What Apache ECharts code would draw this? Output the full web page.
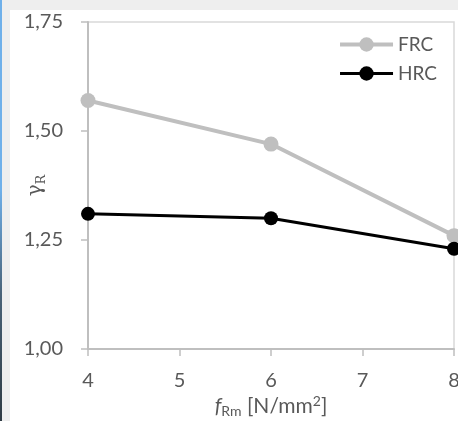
<!DOCTYPE html>
<html>
<head>
<meta charset="utf-8">
<script src="https://cdn.jsdelivr.net/npm/echarts@6/dist/echarts.min.js"></script>
<style>
  html, body { margin: 0; padding: 0; background: #eeeeee; width: 458px; height: 421px; overflow: hidden; }
  #edge { position: absolute; left: 0; top: 0; width: 2px; height: 421px;
          background: linear-gradient(#6fb0ea 0%, #6fb0ea 45%, #4a6378 70%, #2f3b44 100%); }
  #chart { position: absolute; left: 10px; top: 10px; width: 448px; height: 411px; background: #ffffff; }
</style>
</head>
<body>
<div id="edge"></div>
<div id="chart"></div>
<script>
// Partial safety factor against tensile strength
const strengths = [4, 6, 8];            // f_Rm [N/mm²]
const frcValues = [1.57, 1.47, 1.26];   // FRC
const hrcValues = [1.31, 1.30, 1.23];   // HRC
const yTicks = [1.00, 1.25, 1.50, 1.75];
const xTicks = [4, 5, 6, 7, 8];

const textColor = '#595959';
const font = 'Lato';

const pairs = (xs, ys) => xs.map((x, i) => [x, ys[i]]);

const chart = echarts.init(document.getElementById('chart'), null, { renderer: 'canvas' });
chart.setOption({
  animation: false,
  backgroundColor: 'transparent',
  textStyle: { fontFamily: font, color: textColor },
  grid: {
    left: 78, top: 12, right: 4, bottom: 72,
    containLabel: false, outerBoundsMode: 'none',
    show: true, borderColor: '#d9d9d9', borderWidth: 1.5, backgroundColor: 'transparent'
  },
  legend: {
    orient: 'vertical',
    right: 16, top: 20,
    itemWidth: 53, itemHeight: 18, itemGap: 10,
    textStyle: { fontFamily: font, fontSize: 19, color: textColor },
    data: [
      { name: 'FRC', lineStyle: { width: 4 } },
      { name: 'HRC', lineStyle: { width: 3 } }
    ]
  },
  xAxis: {
    type: 'value',
    min: xTicks[0], max: xTicks[xTicks.length - 1], interval: 1,
    axisLine: { lineStyle: { color: '#bfbfbf', width: 2 } },
    axisTick: { show: true, length: 7, lineStyle: { color: '#bfbfbf', width: 1.5 } },
    splitLine: { show: false },
    axisLabel: { fontFamily: font, fontSize: 20, color: textColor, margin: 22 },
    name: '{i|f}{sub|Rm}{n| [N/mm}{sup|2}{n|]}',
    nameLocation: 'middle',
    nameGap: 45,
    nameMoveOverlap: false,
    nameTextStyle: {
      rich: {
        i: { fontFamily: font, fontStyle: 'italic', fontSize: 21, lineHeight: 24, color: textColor },
        n: { fontFamily: font, fontSize: 21, lineHeight: 24, color: textColor },
        sub: { fontFamily: font, fontSize: 14, lineHeight: 14, verticalAlign: 'bottom', color: textColor },
        sup: { fontFamily: font, fontSize: 14, lineHeight: 14, verticalAlign: 'top', color: textColor }
      }
    }
  },
  yAxis: {
    type: 'value',
    min: yTicks[0], max: yTicks[yTicks.length - 1], interval: 0.25,
    axisLine: { show: true, lineStyle: { color: '#bfbfbf', width: 2 } },
    axisTick: { show: true, length: 7, lineStyle: { color: '#bfbfbf', width: 1.5 } },
    splitLine: { show: false },
    axisLabel: {
      fontFamily: font, fontSize: 20, color: textColor, margin: 25,
      formatter: v => v.toFixed(2).replace('.', ',')
    },
    name: '{g|γ}{s|R}',
    nameLocation: 'middle',
    nameRotate: 90,
    nameGap: 40,
    nameMoveOverlap: false,
    nameTextStyle: {
      rich: {
        g: { fontFamily: 'DejaVu Serif', fontSize: 20, lineHeight: 24, color: textColor },
        s: { fontFamily: 'DejaVu Serif', fontSize: 13, lineHeight: 14, verticalAlign: 'bottom', color: textColor }
      }
    }
  },
  series: [
    {
      name: 'FRC', type: 'line', data: pairs(strengths, frcValues),
      symbol: 'circle', symbolSize: 15, clip: false,
      lineStyle: { color: '#bfbfbf', width: 4 },
      itemStyle: { color: '#bfbfbf' }
    },
    {
      name: 'HRC', type: 'line', data: pairs(strengths, hrcValues),
      symbol: 'circle', symbolSize: 14, clip: false,
      lineStyle: { color: '#000000', width: 3 },
      itemStyle: { color: '#000000' }
    }
  ]
});
</script>
</body>
</html>
